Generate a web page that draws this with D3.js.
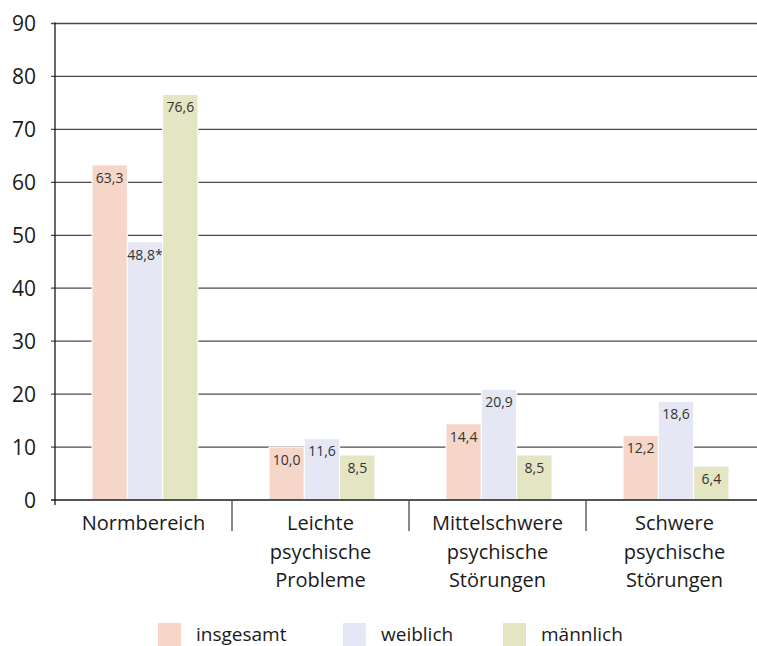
<!DOCTYPE html>
<html><head><meta charset="utf-8">
<script src="https://cdn.jsdelivr.net/npm/d3@7"></script>
<style>body{margin:0;background:#fff;} svg{display:block;font-family:"Open Sans","Noto Sans",sans-serif;}</style>
</head><body>
<svg id="c" width="757" height="646"></svg>
<script>
const categories = [["Normbereich"], ["Leichte","psychische","Probleme"], ["Mittelschwere","psychische","Störungen"], ["Schwere","psychische","Störungen"]];
const seriesNames = ["insgesamt", "weiblich", "männlich"];
const insgesamt = [63.3, 10.0, 14.4, 12.2];
const weiblich = [48.8, 11.6, 20.9, 18.6];
const maennlich = [76.6, 8.5, 8.5, 6.4];
const labelSuffix = [["", "", "", ""], ["*", "", "", ""], ["", "", "", ""]];
const yTicks = [0, 10, 20, 30, 40, 50, 60, 70, 80, 90];
const colors = ["#f6d6c9", "#e5e8f4", "#e4e6c3"];
const series = [insgesamt, weiblich, maennlich];

(function () {
const svg = d3.select("#c");
const mLeft = 55, mRight = 763, mTop = 23.5, mBottom = 500;
const y = d3.scaleLinear().domain([0, 90]).range([mBottom, mTop]);
const x0 = d3.scaleBand().domain(d3.range(categories.length)).range([mLeft, mRight]).paddingInner(0).paddingOuter(0);
const x1 = d3.scaleBand().domain(d3.range(series.length)).range([0, 106]);
const fmt = v => d3.format(".1f")(v).replace(".", ",");

// gridlines
svg.append("g").selectAll("line").data(yTicks.filter(t => t > 0)).join("line")
  .attr("x1", mLeft - 4).attr("x2", 757).attr("y1", d => y(d)).attr("y2", d => y(d))
  .attr("stroke", "#4a4a4a").attr("stroke-width", 1.3);

// y tick labels
svg.append("g").selectAll("text").data(yTicks).join("text")
  .attr("x", 36).attr("y", d => y(d)).attr("dy", "0.36em").attr("text-anchor", "end")
  .attr("font-size", 21).attr("fill", "#1a1a1a").text(d => d);

// bars
const groups = svg.append("g").selectAll("g").data(categories.map((c, i) => i)).join("g")
  .attr("transform", i => `translate(${x0(i) + x0.bandwidth() / 2 - 51.5},0)`);
groups.each(function (ci) {
  const g = d3.select(this);
  series.forEach((s, si) => {
    g.append("rect").attr("x", x1(si)).attr("width", x1.bandwidth())
      .attr("y", y(s[ci])).attr("height", mBottom - y(s[ci]))
      .attr("fill", colors[si]).attr("stroke", "#fff").attr("stroke-width", 1);
    g.append("text").attr("x", x1(si) + x1.bandwidth() / 2).attr("y", y(s[ci]) + 13)
      .attr("dy", "0.35em").attr("text-anchor", "middle").attr("font-size", 14)
      .attr("fill", "#333").text(fmt(s[ci]) + labelSuffix[si][ci]);
  });
});

// axes lines
svg.append("line").attr("x1", mLeft - 4).attr("x2", 757).attr("y1", mBottom).attr("y2", mBottom).attr("stroke", "#1a1a1a").attr("stroke-width", 1.3);
svg.append("line").attr("x1", mLeft).attr("x2", mLeft).attr("y1", mTop - 1).attr("y2", mBottom + 5).attr("stroke", "#1a1a1a").attr("stroke-width", 1.3);
svg.append("g").selectAll("line").data(d3.range(1, categories.length)).join("line")
  .attr("x1", i => x0(i)).attr("x2", i => x0(i)).attr("y1", mBottom).attr("y2", mBottom + 31)
  .attr("stroke", "#4a4a4a").attr("stroke-width", 1.3);

// category labels
categories.forEach((lines, i) => {
  const t = svg.append("text").attr("text-anchor", "middle").attr("font-size", 20).attr("fill", "#1a1a1a");
  lines.forEach((l, li) => {
    t.append("tspan").attr("x", x0(i) + x0.bandwidth() / 2).attr("y", 530 + li * 28.5).text(l);
  });
});

// legend
const legendX = [158, 343, 503];
seriesNames.forEach((n, i) => {
  svg.append("rect").attr("x", legendX[i]).attr("y", 623).attr("width", 23).attr("height", 23).attr("fill", colors[i]);
  svg.append("text").attr("x", legendX[i] + 38).attr("y", 634).attr("dy", "0.36em").attr("font-size", 19).attr("fill", "#1a1a1a").text(n);
});
})();
</script>
</body></html>
